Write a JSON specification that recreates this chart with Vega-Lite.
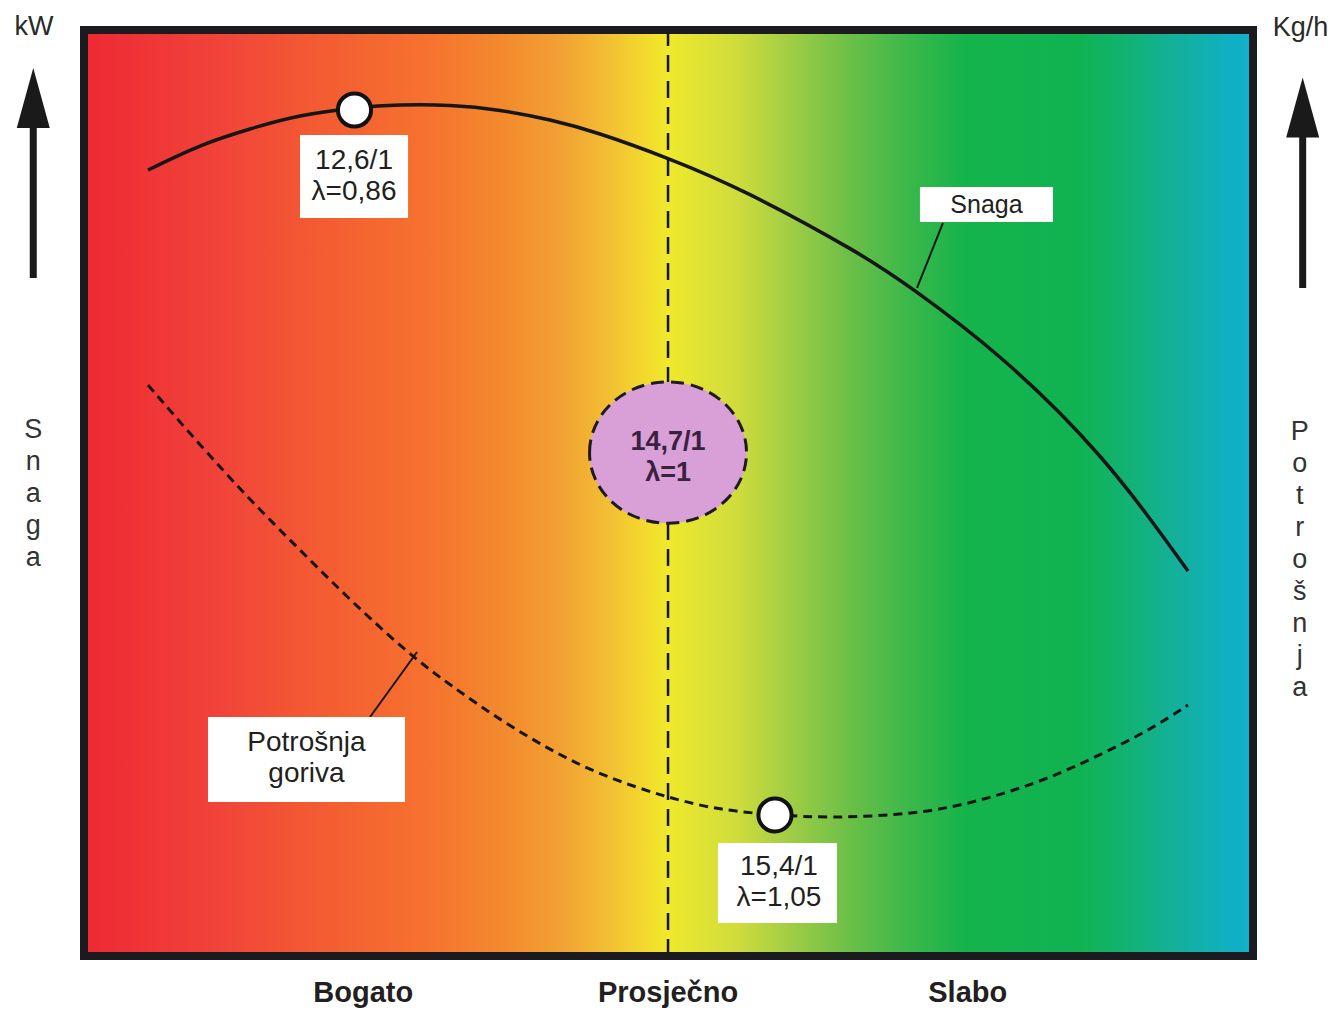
{
  "$schema": "https://vega.github.io/schema/vega-lite/v6.json",
  "width": 1169,
  "height": 926,
  "autosize": {"type": "none"},
  "padding": {"left": 84, "top": 30, "right": 89, "bottom": 55},
  "background": "white",
  "config": {"view": {"stroke": null}, "text": {"font": "Liberation Sans"}},
  "datasets": {
    "frame": [{"x": 0, "y": 0, "x2": 100, "y2": 100}],
    "midline": [{"x": 49.96, "y": 0, "y2": 100}],
    "curves": [
      {"series": "Snaga", "x": 5.47, "y": 84.88},
      {"series": "Snaga", "x": 9.92, "y": 87.47},
      {"series": "Snaga", "x": 14.2, "y": 89.31},
      {"series": "Snaga", "x": 18.48, "y": 90.71},
      {"series": "Snaga", "x": 23.18, "y": 91.58},
      {"series": "Snaga", "x": 27.03, "y": 91.9},
      {"series": "Snaga", "x": 31.31, "y": 91.85},
      {"series": "Snaga", "x": 35.59, "y": 91.31},
      {"series": "Snaga", "x": 39.86, "y": 90.28},
      {"series": "Snaga", "x": 44.14, "y": 88.77},
      {"series": "Snaga", "x": 49.96, "y": 86.12},
      {"series": "Snaga", "x": 56.97, "y": 82.22},
      {"series": "Snaga", "x": 65.53, "y": 76.39},
      {"series": "Snaga", "x": 71.09, "y": 71.82},
      {"series": "Snaga", "x": 78.36, "y": 64.66},
      {"series": "Snaga", "x": 86.91, "y": 53.97},
      {"series": "Snaga", "x": 94.44, "y": 41.58},
      {"series": "Potrošnja goriva", "x": 5.47, "y": 61.66},
      {"series": "Potrošnja goriva", "x": 9.92, "y": 55.18},
      {"series": "Potrošnja goriva", "x": 14.2, "y": 49.24},
      {"series": "Potrošnja goriva", "x": 18.48, "y": 43.84},
      {"series": "Potrošnja goriva", "x": 22.75, "y": 38.44},
      {"series": "Potrošnja goriva", "x": 27.89, "y": 32.51},
      {"series": "Potrošnja goriva", "x": 31.31, "y": 29.27},
      {"series": "Potrošnja goriva", "x": 35.59, "y": 25.49},
      {"series": "Potrošnja goriva", "x": 39.86, "y": 22.25},
      {"series": "Potrošnja goriva", "x": 44.14, "y": 19.55},
      {"series": "Potrošnja goriva", "x": 49.96, "y": 17.06},
      {"series": "Potrošnja goriva", "x": 54.41, "y": 15.77},
      {"series": "Potrošnja goriva", "x": 58.94, "y": 15.23},
      {"series": "Potrošnja goriva", "x": 63.82, "y": 14.9},
      {"series": "Potrošnja goriva", "x": 69.8, "y": 15.23},
      {"series": "Potrošnja goriva", "x": 74.08, "y": 15.98},
      {"series": "Potrošnja goriva", "x": 78.36, "y": 17.39},
      {"series": "Potrošnja goriva", "x": 82.63, "y": 19.22},
      {"series": "Potrošnja goriva", "x": 86.91, "y": 21.71},
      {"series": "Potrošnja goriva", "x": 91.19, "y": 24.41},
      {"series": "Potrošnja goriva", "x": 94.44, "y": 27.11}
    ],
    "leaders": [
      {"x": 73.48, "y": 79.16, "x2": 71.26, "y2": 72.14},
      {"x": 24.47, "y": 25.81, "x2": 28.49, "y2": 32.83}
    ],
    "stoich": [{"x": 49.96, "y": 54.37}],
    "stoichText": [{"x": 49.96, "y": 55.54, "t": "14,7/1\nλ=1"}],
    "markers": [
      {"x": 23.14, "y": 91.36},
      {"x": 59.11, "y": 15.23}
    ],
    "boxes": [
      {"x": 18.48, "y": 79.7, "x2": 27.72, "y2": 88.66},
      {"x": 10.61, "y": 16.63, "x2": 27.46, "y2": 25.81},
      {"x": 54.23, "y": 3.56, "x2": 64.41, "y2": 12.2},
      {"x": 71.51, "y": 79.27, "x2": 82.89, "y2": 83.05}
    ],
    "boxText": [
      {"x": 23.1, "y": 85.85, "t": "12,6/1\nλ=0,86"},
      {"x": 19.03, "y": 23.0, "t": "Potrošnja\ngoriva"},
      {"x": 59.45, "y": 9.56, "t": "15,4/1\nλ=1,05"}
    ],
    "snagaText": [{"x": 77.2, "y": 81.15, "t": "Snaga"}],
    "shafts": [
      {"x": -4.34, "y": 73.22, "y2": 89.6},
      {"x": 104.25, "y": 72.14, "y2": 88.8}
    ],
    "heads": [
      {"x": -4.34, "y": 92.65},
      {"x": 104.25, "y": 91.63}
    ],
    "units": [
      {"x": -4.28, "y": 100.27, "t": "kW"},
      {"x": 104.06, "y": 100.2, "t": "Kg/h"}
    ],
    "vertical": [
      {"x": -4.34, "y": 56.8, "t": "S\nn\na\ng\na"},
      {"x": 104.0, "y": 56.59, "t": "P\no\nt\nr\no\nš\nn\nj\na"}
    ],
    "bottom": [
      {"x": 23.89, "y": -4.0, "t": "Bogato"},
      {"x": 49.96, "y": -4.0, "t": "Prosječno"},
      {"x": 75.6, "y": -4.0, "t": "Slabo"}
    ]
  },
  "encoding": {
    "x": {"field": "x", "type": "quantitative", "scale": {"domain": [0, 100]}, "axis": null},
    "y": {"field": "y", "type": "quantitative", "scale": {"domain": [0, 100]}, "axis": null}
  },
  "layer": [
    {
      "data": {"name": "frame"},
      "mark": {
        "type": "rect",
        "fill": {
          "gradient": "linear", "x1": 0, "y1": 0, "x2": 1, "y2": 0,
          "stops": [
            {"offset": 0, "color": "#ee2933"},
            {"offset": 0.114, "color": "#f1433a"},
            {"offset": 0.196, "color": "#f35a32"},
            {"offset": 0.294, "color": "#f6722f"},
            {"offset": 0.359, "color": "#f38a2e"},
            {"offset": 0.407, "color": "#f2a033"},
            {"offset": 0.45, "color": "#f2c033"},
            {"offset": 0.484, "color": "#f3dd2c"},
            {"offset": 0.5, "color": "#efe92c"},
            {"offset": 0.559, "color": "#cfdc3c"},
            {"offset": 0.607, "color": "#9dcc45"},
            {"offset": 0.656, "color": "#6abf48"},
            {"offset": 0.706, "color": "#3bb84a"},
            {"offset": 0.754, "color": "#15b34b"},
            {"offset": 0.853, "color": "#10b352"},
            {"offset": 0.902, "color": "#12b27c"},
            {"offset": 0.935, "color": "#13b09c"},
            {"offset": 0.985, "color": "#0fb0c6"},
            {"offset": 1, "color": "#10b1cc"}
          ]
        }
      },
      "encoding": {"x2": {"field": "x2"}, "y2": {"field": "y2"}}
    },
    {
      "data": {"name": "midline"},
      "mark": {"type": "rule", "color": "#161616", "strokeWidth": 2.5, "strokeDash": [17, 9]},
      "encoding": {"y2": {"field": "y2"}}
    },
    {
      "data": {"name": "curves"},
      "transform": [{"filter": "datum.series === 'Snaga'"}],
      "mark": {"type": "line", "color": "#161616", "strokeWidth": 3.5, "interpolate": "natural"},
      "encoding": {}
    },
    {
      "data": {"name": "curves"},
      "transform": [{"filter": "datum.series !== 'Snaga'"}],
      "mark": {"type": "line", "color": "#161616", "strokeWidth": 3, "strokeDash": [9, 6], "interpolate": "basis"},
      "encoding": {}
    },
    {
      "data": {"name": "leaders"},
      "mark": {"type": "rule", "color": "#161616", "strokeWidth": 2},
      "encoding": {"x2": {"field": "x2"}, "y2": {"field": "y2"}}
    },
    {
      "data": {"name": "stoich"},
      "mark": {
        "type": "point", "filled": true, "fill": "#d8a0d6", "fillOpacity": 1,
        "stroke": "#1f1a1f", "strokeWidth": 3, "strokeOpacity": 1, "strokeDash": [13, 7],
        "shape": "M-1,0A1,0.9 0 1,1 1,0A1,0.9 0 1,1 -1,0Z", "size": 24649
      }
    },
    {
      "data": {"name": "stoichText"},
      "mark": {"type": "text", "fontSize": 27, "fontWeight": "bold", "color": "#3a2140", "lineBreak": "\n", "lineHeight": 31, "align": "center", "baseline": "middle"},
      "encoding": {"text": {"field": "t"}}
    },
    {
      "data": {"name": "markers"},
      "mark": {"type": "point", "filled": true, "fill": "#ffffff", "fillOpacity": 1, "stroke": "#111111", "strokeWidth": 4, "strokeOpacity": 1, "shape": "circle", "size": 1100}
    },
    {
      "data": {"name": "boxes"},
      "mark": {"type": "rect", "fill": "#ffffff", "fillOpacity": 1},
      "encoding": {"x2": {"field": "x2"}, "y2": {"field": "y2"}}
    },
    {
      "data": {"name": "boxText"},
      "mark": {"type": "text", "fontSize": 28, "color": "#231f20", "lineBreak": "\n", "lineHeight": 31, "align": "center", "baseline": "middle"},
      "encoding": {"text": {"field": "t"}}
    },
    {
      "data": {"name": "snagaText"},
      "mark": {"type": "text", "fontSize": 25, "color": "#231f20", "align": "center", "baseline": "middle"},
      "encoding": {"text": {"field": "t"}}
    },
    {
      "data": {"name": "frame"},
      "mark": {"type": "rect", "filled": false, "stroke": "#1b1a1f", "strokeWidth": 8},
      "encoding": {"x2": {"field": "x2"}, "y2": {"field": "y2"}}
    },
    {
      "data": {"name": "shafts"},
      "mark": {"type": "rule", "color": "#1a1a1a", "strokeWidth": 7},
      "encoding": {"y2": {"field": "y2"}}
    },
    {
      "data": {"name": "heads"},
      "mark": {"type": "point", "filled": true, "fill": "#1a1a1a", "fillOpacity": 1, "strokeWidth": 0, "shape": "M0,-1L-0.55,1L0.55,1Z", "size": 3600}
    },
    {
      "data": {"name": "units"},
      "mark": {"type": "text", "fontSize": 27, "color": "#2a2a2a", "align": "center", "baseline": "middle"},
      "encoding": {"text": {"field": "t"}}
    },
    {
      "data": {"name": "vertical"},
      "mark": {"type": "text", "fontSize": 27, "color": "#333333", "lineBreak": "\n", "lineHeight": 32, "align": "center", "baseline": "middle"},
      "encoding": {"text": {"field": "t"}}
    },
    {
      "data": {"name": "bottom"},
      "mark": {"type": "text", "fontSize": 29, "fontWeight": "bold", "color": "#231f20", "align": "center", "baseline": "middle"},
      "encoding": {"text": {"field": "t"}}
    }
  ]
}
